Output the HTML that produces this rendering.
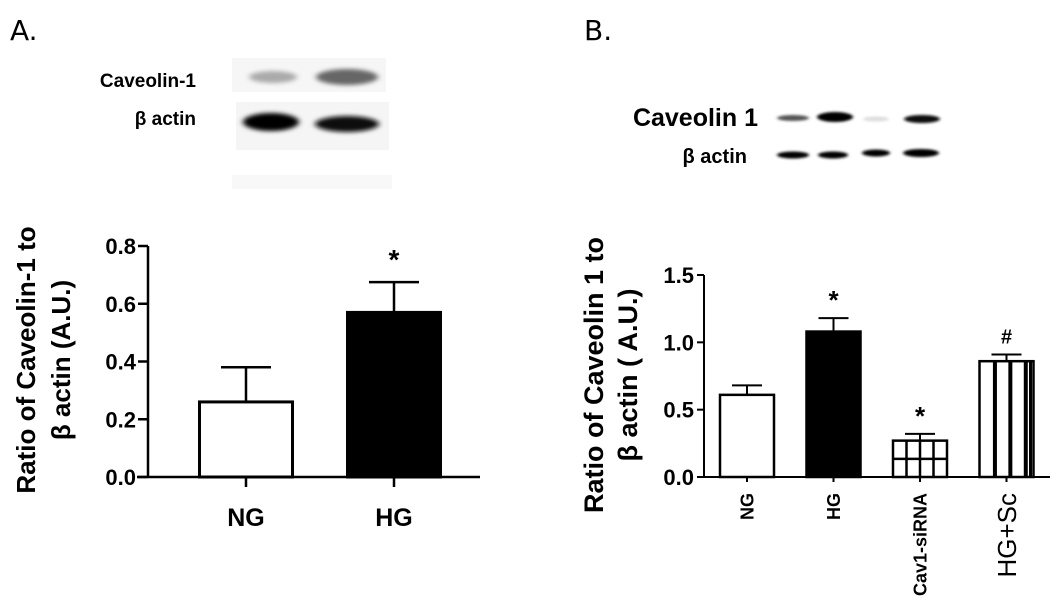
<!DOCTYPE html>
<html><head><meta charset="utf-8"><style>
body{margin:0;background:#fff;}
svg{display:block;font-family:"Liberation Sans",Arial,sans-serif;}
.b{font-weight:bold;}
</style></head><body>
<svg width="1056" height="601" viewBox="0 0 1056 601" xmlns="http://www.w3.org/2000/svg" id="fig">
<defs>
<filter id="bl" x="-30%" y="-100%" width="160%" height="300%"><feGaussianBlur stdDeviation="3 2.2"/></filter>
<filter id="bl2" x="-30%" y="-100%" width="160%" height="300%"><feGaussianBlur stdDeviation="1.6 1.2"/></filter>
</defs>
<text x="10" y="40" font-size="28" font-family="DejaVu Sans, sans-serif">A.</text>
<text x="584" y="40" font-size="28" font-family="DejaVu Sans, sans-serif">B.</text>
<g>
<rect x="232" y="58" width="154" height="34" fill="#f6f6f6"/>
<rect x="236" y="102" width="153" height="48" fill="#f5f5f5"/>
<rect x="232" y="175" width="160" height="14" fill="#f8f8f8"/>
<ellipse cx="273" cy="77" rx="24" ry="6" fill="#aaa" filter="url(#bl)"/>
<ellipse cx="347" cy="77" rx="31" ry="8" fill="#666" filter="url(#bl)"/>
<ellipse cx="271" cy="122" rx="28" ry="9" fill="#000" filter="url(#bl)"/>
<ellipse cx="347" cy="124" rx="32" ry="8" fill="#111" filter="url(#bl)"/>
</g>
<text x="196" y="87" font-size="19" class="b" text-anchor="end">Caveolin-1</text>
<text x="196" y="125" font-size="19" class="b" text-anchor="end">β actin</text>
<g>
<ellipse cx="793" cy="118" rx="16" ry="3" fill="#555" filter="url(#bl2)"/>
<ellipse cx="835" cy="117" rx="18" ry="5" fill="#000" filter="url(#bl2)"/>
<ellipse cx="876" cy="119" rx="13" ry="2.5" fill="#ddd" filter="url(#bl2)"/>
<ellipse cx="922" cy="119" rx="18" ry="4" fill="#111" filter="url(#bl2)"/>
<ellipse cx="793" cy="155" rx="16" ry="3.5" fill="#000" filter="url(#bl2)"/>
<ellipse cx="833" cy="155" rx="15" ry="3.5" fill="#000" filter="url(#bl2)"/>
<ellipse cx="876" cy="153" rx="14" ry="3.5" fill="#000" filter="url(#bl2)"/>
<ellipse cx="921" cy="153" rx="18" ry="4" fill="#000" filter="url(#bl2)"/>
</g>
<text x="758" y="126" font-size="25" class="b" text-anchor="end">Caveolin 1</text>
<text x="747" y="163" font-size="20" class="b" text-anchor="end">β actin</text>
<g id="chartA"></g>
<g id="chartB"></g>
</svg>
<script>
const aCats=["NG","HG"];
const aVals=[0.26,0.57];
const aErr=[0.12,0.105];
const aTicks=[0,0.2,0.4,0.6,0.8];
const aTickLabels=["0.0","0.2","0.4","0.6","0.8"];
const aSig=["","*"];
const bCats=["NG","HG","Cav1-siRNA","HG+Sc"];
const bVals=[0.61,1.08,0.27,0.86];
const bErr=[0.07,0.10,0.05,0.05];
const bTicks=[0,0.5,1.0,1.5];
const bTickLabels=["0.0","0.5","1.0","1.5"];
const bSig=["","*","*","#"];
const NS="http://www.w3.org/2000/svg";
function mk(p,t,a,txt){const e=document.createElementNS(NS,t);for(const k in a)e.setAttribute(k,a[k]);if(txt!==undefined)e.textContent=txt;p.appendChild(e);return e;}
(function(){
const g=document.getElementById('chartA');
const y0=477,ymax=0.8,h=231,x0=148;
const y=v=>y0-v/ymax*h;
const xc=i=>246+i*148;const bw=96;
mk(g,'line',{x1:x0,y1:y(0.8),x2:x0,y2:y0+1,stroke:'#000','stroke-width':2.5});
mk(g,'line',{x1:137,y1:y0,x2:480,y2:y0,stroke:'#000','stroke-width':2.5});
aTicks.forEach((t,i)=>{
 let l=mk(g,'line',{x1:138,y1:y(t),x2:x0,y2:y(t),stroke:'#000','stroke-width':2.5});
 
 
 let tx=mk(g,'text',{x:136,y:y(t)+8,'font-size':22,'font-weight':'bold','text-anchor':'end'},aTickLabels[i]);
 
 
});
aCats.forEach((c,i)=>{
 const cx=xc(i);
 let e=mk(g,'line',{x1:cx,y1:y(aVals[i]),x2:cx,y2:y(aVals[i]+aErr[i]),stroke:'#000','stroke-width':2.5});
 
 
 mk(g,'line',{x1:cx-25,y1:y(aVals[i]+aErr[i]),x2:cx+25,y2:y(aVals[i]+aErr[i]),stroke:'#000','stroke-width':2.5});
 let r=mk(g,'rect',{x:cx-bw/2+1.5,y:y(aVals[i]),width:bw-3,height:y0-y(aVals[i]),fill:i==0?'#fff':'#000',stroke:'#000','stroke-width':3});
 
 
 mk(g,'line',{x1:cx,y1:y0,x2:cx,y2:y0+10,stroke:'#000','stroke-width':2.5});
 let t=mk(g,'text',{x:cx,y:526,'font-size':25,'font-weight':'bold','text-anchor':'middle'},c);
 
 
 if(aSig[i]){let s=mk(g,'text',{x:cx,y:y(aVals[i]+aErr[i])-13,'font-size':28,'font-weight':'bold','text-anchor':'middle'},aSig[i]);
 
 }
});
let yt=mk(g,'text',{transform:'translate(35,360) rotate(-90)','font-size':26,'font-weight':'bold','text-anchor':'middle'},'Ratio of Caveolin-1 to');


let yt2=mk(g,'text',{transform:'translate(70,360) rotate(-90)','font-size':26,'font-weight':'bold','text-anchor':'middle'},'β actin  (A.U.)');


})();
(function(){
const g=document.getElementById('chartB');
const y0=477,ymax=1.5,h=202,x0=704;
const y=v=>y0-v/ymax*h;
const xc=i=>747+i*86.5;const bw=56;
mk(g,'line',{x1:x0,y1:y(1.5),x2:x0,y2:y0+1,stroke:'#000','stroke-width':2});
mk(g,'line',{x1:697,y1:y0,x2:1050,y2:y0,stroke:'#000','stroke-width':2});
bTicks.forEach((t,i)=>{
 let l=mk(g,'line',{x1:697,y1:y(t),x2:x0,y2:y(t),stroke:'#000','stroke-width':2});
 
 
 let tx=mk(g,'text',{x:694,y:y(t)+8,'font-size':22,'font-weight':'bold','text-anchor':'end'},bTickLabels[i]);
 
 
});
bCats.forEach((c,i)=>{
 const cx=xc(i),top=y(bVals[i]),L=cx-bw/2+1,R=cx+bw/2-1;
 let e=mk(g,'line',{x1:cx,y1:top,x2:cx,y2:y(bVals[i]+bErr[i]),stroke:'#000','stroke-width':2});
 
 
 mk(g,'line',{x1:cx-15,y1:y(bVals[i]+bErr[i]),x2:cx+15,y2:y(bVals[i]+bErr[i]),stroke:'#000','stroke-width':2});
 let r=mk(g,'rect',{x:L,y:top,width:R-L,height:y0-top,fill:i==1?'#000':'#fff',stroke:'#000','stroke-width':2.5});
 
 
 if(i==2){
  for(let k=1;k<4;k++){mk(g,'line',{x1:L+k*(R-L)/4,y1:top,x2:L+k*(R-L)/4,y2:y0,stroke:'#000','stroke-width':2.5});}
  mk(g,'line',{x1:L,y1:(top+y0)/2,x2:R,y2:(top+y0)/2,stroke:'#000','stroke-width':2.5});
 }
 if(i==3){
  for(let k=1;k<4;k++){mk(g,'line',{x1:L+k*(R-L)/3.5,y1:top,x2:L+k*(R-L)/3.5,y2:y0,stroke:'#000','stroke-width':4});}
  mk(g,'line',{x1:R-3,y1:top,x2:R-3,y2:y0,stroke:'#000','stroke-width':3});
 }
 mk(g,'line',{x1:cx,y1:y0,x2:cx,y2:y0+5,stroke:'#000','stroke-width':2});
 const fs=i==3?26:18;
 let t=mk(g,'text',{transform:`translate(${cx+fs*0.36},${y0+16}) rotate(-90)`,'font-size':fs,'font-weight':i==3?'normal':'bold','text-anchor':'end'},c);
 
 
 if(bSig[i]){let s=mk(g,'text',{x:cx,y:y(bVals[i]+bErr[i])-(bSig[i]=='#'?11:9),'font-size':bSig[i]=='#'?20:26,'font-weight':'bold','text-anchor':'middle'},bSig[i]);
 
 }
});
let yt=mk(g,'text',{transform:'translate(603,375) rotate(-90)','font-size':27,'font-weight':'bold','text-anchor':'middle'},'Ratio of Caveolin 1 to');


let yt2=mk(g,'text',{transform:'translate(637,375) rotate(-90)','font-size':27,'font-weight':'bold','text-anchor':'middle'},'β actin ( A.U.)');


})();
</script>
</body></html>
